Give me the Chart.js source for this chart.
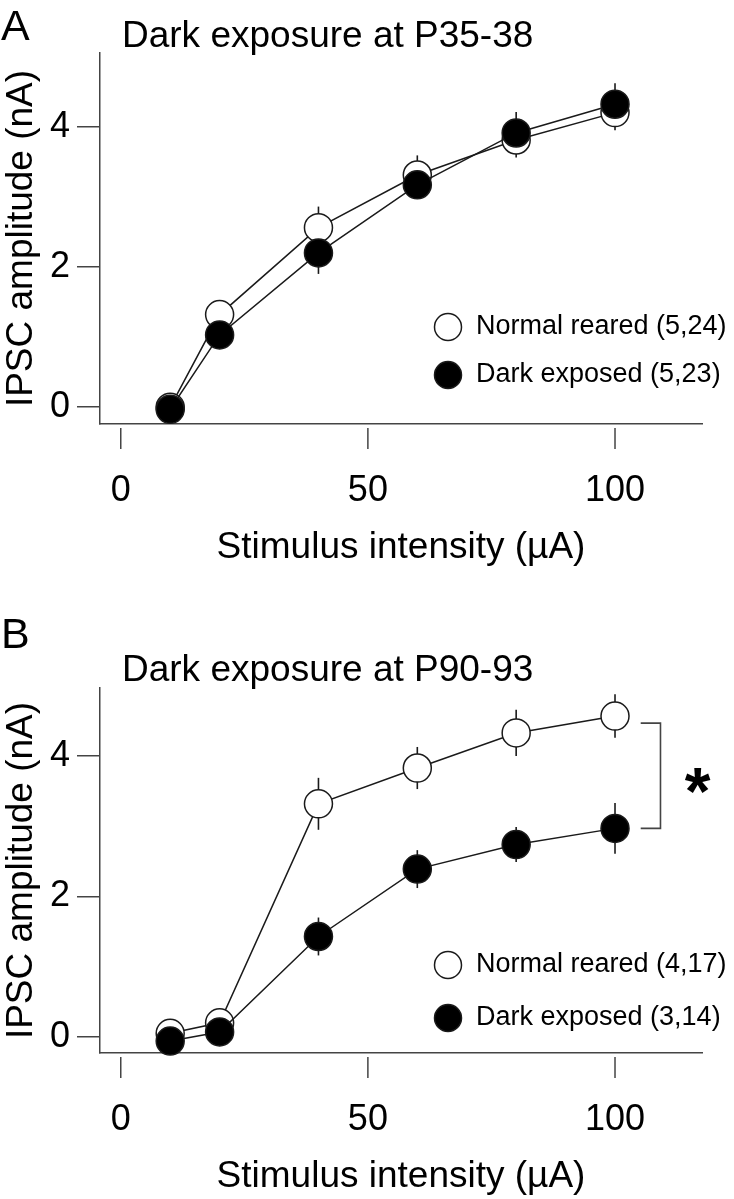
<!DOCTYPE html>
<html>
<head>
<meta charset="utf-8">
<script src="https://cdn.jsdelivr.net/npm/chart.js@4/dist/chart.umd.min.js"></script>
<style>
  body { margin: 0; background: #fff; }
  canvas { position: absolute; left: 0; }
  #panelA { top: 0; }
  #panelB { top: 600px; }
</style>
</head>
<body>
<canvas id="panelA" width="734" height="600"></canvas>
<canvas id="panelB" width="734" height="599"></canvas>
<script>
// stimulus intensities (uA) and axis ticks
const stimulus = [10, 20, 40, 60, 80, 100];
const xTicks = [0, 50, 100];
const yTicks = [0, 2, 4];

// A - dark exposure at P35-38 (IPSC amplitude, nA, mean and error)
const normalA    = [0.00, 1.32, 2.56, 3.31, 3.81, 4.20];
const normalAErr = [0.05, 0.12, 0.30, 0.28, 0.25, 0.25];
const darkA      = [-0.03, 1.03, 2.20, 3.17, 3.91, 4.32];
const darkAErr   = [0.05, 0.12, 0.30, 0.20, 0.30, 0.30];

// B - dark exposure at P90-93
const normalB    = [0.05, 0.20, 3.32, 3.83, 4.33, 4.57];
const normalBErr = [0.05, 0.10, 0.37, 0.30, 0.33, 0.31];
const darkB      = [-0.06, 0.07, 1.43, 2.39, 2.74, 2.97];
const darkBErr   = [0.05, 0.08, 0.27, 0.27, 0.25, 0.36];

const FONT = '"Liberation Sans", Arial, sans-serif';
const INK = '#1a1a1a';
const AXIS = '#444';

// vertical error bars, drawn under the markers
const errorBars = {
  id: 'errorBars',
  beforeDatasetsDraw(chart) {
    const ctx = chart.ctx, y = chart.scales.y;
    ctx.save();
    ctx.strokeStyle = INK;
    ctx.lineWidth = 1.6;
    chart.data.datasets.forEach((ds, i) => {
      chart.getDatasetMeta(i).data.forEach((pt, j) => {
        const v = ds.data[j].y, e = ds.errors[j];
        ctx.beginPath();
        ctx.moveTo(pt.x, y.getPixelForValue(v + e));
        ctx.lineTo(pt.x, y.getPixelForValue(v - e));
        ctx.stroke();
      });
    });
    ctx.restore();
  }
};

// panel letter, title, detached x ticks, legend and significance bracket
const decor = {
  id: 'decor',
  afterDraw(chart, args, o) {
    const ctx = chart.ctx, x = chart.scales.x, y = chart.scales.y;
    ctx.save();
    ctx.strokeStyle = AXIS;
    ctx.lineWidth = 1.5;
    x.ticks.forEach(t => {
      const px = x.getPixelForValue(t.value);
      ctx.beginPath();
      ctx.moveTo(px, x.top + 4);
      ctx.lineTo(px, x.top + 25);
      ctx.stroke();
    });

    ctx.fillStyle = '#000';
    ctx.textAlign = 'left';
    ctx.textBaseline = 'alphabetic';
    ctx.font = '43px ' + FONT;
    ctx.fillText(o.letter, 1, o.letterY);
    ctx.font = '37px ' + FONT;
    ctx.fillText(o.title, 122, o.titleY);

    ctx.font = '27px ' + FONT;
    ctx.textBaseline = 'middle';
    chart.data.datasets.forEach((ds, i) => {
      const cy = o.legendY[i];
      ctx.beginPath();
      ctx.arc(448, cy, 13.5, 0, Math.PI * 2);
      ctx.fillStyle = ds.pointBackgroundColor;
      ctx.fill();
      ctx.lineWidth = 1.5;
      ctx.strokeStyle = INK;
      ctx.stroke();
      ctx.fillStyle = '#000';
      ctx.fillText(ds.label, 476, cy);
    });

    if (o.bracket) {
      const b = o.bracket;
      const x0 = x.getPixelForValue(b.x0), x1 = x.getPixelForValue(b.x1);
      const y0 = y.getPixelForValue(b.top), y1 = y.getPixelForValue(b.bottom);
      ctx.strokeStyle = AXIS;
      ctx.lineWidth = 1.6;
      ctx.beginPath();
      ctx.moveTo(x0, y0); ctx.lineTo(x1, y0); ctx.lineTo(x1, y1); ctx.lineTo(x0, y1);
      ctx.stroke();
      ctx.fillStyle = '#000';
      ctx.font = 'bold 66px ' + FONT;
      ctx.textAlign = 'center';
      ctx.textBaseline = 'alphabetic';
      ctx.fillText('*', x.getPixelForValue(b.starX), (y0 + y1) / 2 + 0.58 * 66);
    }
    ctx.restore();
  }
};

function series(label, vals, errs, fill, order) {
  return {
    label: label,
    data: stimulus.map((s, i) => ({ x: s, y: vals[i] })),
    errors: errs,
    borderColor: INK,
    borderWidth: 1.5,
    pointRadius: 14,
    pointHoverRadius: 14,
    pointBorderWidth: 1.5,
    pointBackgroundColor: fill,
    pointBorderColor: INK,
    tension: 0,
    fill: false,
    clip: false,
    order: order
  };
}

function makePanel(id, datasets, p) {
  return new Chart(document.getElementById(id), {
    type: 'line',
    data: { datasets: datasets },
    options: {
      responsive: false,
      animation: false,
      devicePixelRatio: 1,
      events: [],
      layout: { padding: { top: p.top, right: 32, left: 0, bottom: 0 } },
      scales: {
        x: {
          type: 'linear', min: -4.2, max: 117.6,
          afterBuildTicks: s => { s.ticks = xTicks.map(v => ({ value: v })); },
          afterFit: s => { s.height = p.xHeight; },
          grid: { display: false, drawTicks: false },
          border: { display: true, color: AXIS, width: 1.5 },
          ticks: { padding: 45, color: '#000', font: { family: FONT, size: 36 } },
          title: {
            display: true, text: 'Stimulus intensity (µA)', color: '#000',
            font: { family: FONT, size: 37 }, padding: { top: 0, bottom: p.titlePad }
          }
        },
        y: {
          type: 'linear', min: p.yMin, max: p.yMax,
          afterBuildTicks: s => { s.ticks = yTicks.map(v => ({ value: v })); },
          afterFit: s => { s.width = 100; },
          grid: { display: true, drawOnChartArea: false, drawTicks: true, tickLength: 23, color: AXIS, lineWidth: 1.5 },
          border: { display: true, color: AXIS, width: 1.5 },
          ticks: { padding: 7, color: '#000', font: { family: FONT, size: 36 } },
          title: {
            display: true, text: 'IPSC amplitude (nA)', color: '#000',
            font: { family: FONT, size: 37 }, padding: { top: 0, bottom: 0 }
          }
        }
      },
      plugins: {
        legend: { display: false },
        tooltip: { enabled: false },
        decor: p.decor
      }
    },
    plugins: [errorBars, decor]
  });
}

makePanel('panelA', [
  series('Normal reared (5,24)', normalA, normalAErr, '#fff', 1),
  series('Dark exposed (5,23)', darkA, darkAErr, '#000', 0)
], {
  top: 53, xHeight: 176, titlePad: 30, yMin: -0.24, yMax: 5.05,
  decor: { letter: 'A', letterY: 40, title: 'Dark exposure at P35-38', titleY: 47, legendY: [327, 375] }
});

makePanel('panelB', [
  series('Normal reared (4,17)', normalB, normalBErr, '#fff', 1),
  series('Dark exposed (3,14)', darkB, darkBErr, '#000', 0)
], {
  top: 88, xHeight: 146, titlePad: 0, yMin: -0.23, yMax: 4.97,
  decor: {
    letter: 'B', letterY: 48, title: 'Dark exposure at P90-93', titleY: 81, legendY: [365, 418],
    bracket: { x0: 105.2, x1: 109.2, top: 4.47, bottom: 2.97, starX: 116.7 }
  }
});
</script>
</body>
</html>
